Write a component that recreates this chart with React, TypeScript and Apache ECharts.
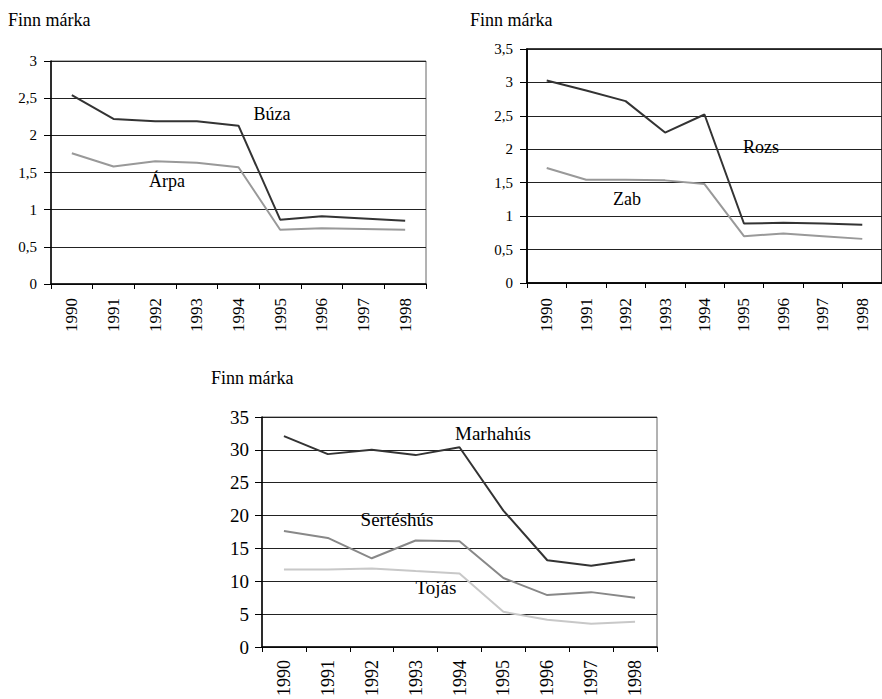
import React, { useEffect, useRef } from "react";
import * as echarts from "echarts";

const years = ["1990", "1991", "1992", "1993", "1994", "1995", "1996", "1997", "1998"];

const buza = [2.54, 2.22, 2.19, 2.19, 2.13, 0.865, 0.91, 0.88, 0.85];
const arpa = [1.76, 1.58, 1.65, 1.63, 1.57, 0.73, 0.75, 0.74, 0.73];

const rozs = [3.03, 2.88, 2.72, 2.25, 2.52, 0.89, 0.9, 0.89, 0.87];
const zab = [1.72, 1.545, 1.545, 1.535, 1.48, 0.7, 0.74, 0.7, 0.66];

const marhahus = [32.1, 29.35, 30.0, 29.2, 30.4, 20.75, 13.2, 12.35, 13.3];
const serteshus = [17.65, 16.6, 13.5, 16.2, 16.1, 10.5, 7.9, 8.35, 7.5];
const tojas = [11.8, 11.8, 11.95, 11.55, 11.2, 5.35, 4.15, 3.55, 3.85];

const unitLabel = "Finn márka";

const FONT = "Liberation Serif";

export default function App() {
  const ref = useRef<HTMLDivElement>(null);
  useEffect(() => {
    if (!ref.current) return;
    const chart = echarts.init(ref.current, undefined, { renderer: "svg" });

    const fmt = (v: number) => String(v).replace(".", ",");

    const mkX = (gridIndex: number, fontSize: number, margin: number) => ({
      type: "category",
      gridIndex,
      data: years,
      boundaryGap: true,
      axisLine: { show: true, lineStyle: { color: "#000", width: 1.5 } },
      axisTick: { show: true, length: 5, lineStyle: { color: "#000" } },
      axisLabel: {
        interval: 0,
        rotate: 90,
        margin,
        color: "#000",
        fontFamily: FONT,
        fontSize,
      },
      splitLine: { show: false },
    });

    const mkY = (gridIndex: number, max: number, interval: number, fontSize: number, margin: number) => ({
      type: "value",
      gridIndex,
      min: 0,
      max,
      interval,
      axisLine: { show: true, lineStyle: { color: "#000", width: 1.5 } },
      axisTick: { show: true, length: 7, lineStyle: { color: "#000" } },
      axisLabel: {
        margin,
        color: "#000",
        fontFamily: FONT,
        fontSize,
        formatter: fmt,
      },
      splitLine: { show: true, lineStyle: { color: "#222", width: 1 } },
    });

    const mkS = (name: string, data: number[], xi: number, color: string) => ({
      type: "line",
      name,
      xAxisIndex: xi,
      yAxisIndex: xi,
      data,
      symbol: "none",
      lineStyle: { color, width: 2 },
      z: 5,
    });

    const txt = (text: string, x: number, y: number, align: string, size: number) => ({
      type: "text",
      x,
      y,
      z: 100,
      style: {
        text,
        fill: "#000",
        fontFamily: FONT,
        fontSize: size,
        textAlign: align,
        textVerticalAlign: "middle",
        align,
        verticalAlign: "middle",
      },
    });

    chart.setOption({
      animation: false,
      backgroundColor: "#fff",
      textStyle: { fontFamily: FONT },
      grid: [
        { left: 51, top: 61, width: 375, height: 223, show: true, borderColor: "#666", borderWidth: 1 },
        { left: 527, top: 49, width: 367, height: 234, show: true, borderColor: "#000", borderWidth: 1.5 },
        { left: 262, top: 417, width: 395, height: 233, show: true, borderColor: "#666", borderWidth: 1 },
      ],
      xAxis: [mkX(0, 17, 14), mkX(1, 17, 15), mkX(2, 18, 13)],
      yAxis: [mkY(0, 3, 0.5, 15, 14), mkY(1, 3.5, 0.5, 15, 14), mkY(2, 35, 5, 19, 13)],
      series: [
        mkS("Búza", buza, 0, "#333"),
        mkS("Árpa", arpa, 0, "#999"),
        mkS("Rozs", rozs, 1, "#333"),
        mkS("Zab", zab, 1, "#999"),
        mkS("Marhahús", marhahus, 2, "#333"),
        mkS("Sertéshús", serteshus, 2, "#888"),
        mkS("Tojás", tojas, 2, "#c8c8c8"),
      ],
      graphic: [
        txt(unitLabel, 8, 20, "left", 18),
        txt(unitLabel, 470, 20, "left", 18),
        txt(unitLabel, 211, 378, "left", 18),
        txt("Búza", 272, 114, "center", 18),
        txt("Árpa", 167, 181, "center", 18),
        txt("Rozs", 761, 147, "center", 18),
        txt("Zab", 627, 199, "center", 18),
        txt("Marhahús", 493, 433, "center", 19),
        txt("Sertéshús", 397, 519, "center", 19),
        txt("Tojás", 436, 587, "center", 19),
      ],
    });
    return () => chart.dispose();
  }, []);
  return (
    <div
      ref={ref}
      style={{ position: "absolute", left: 0, top: 0, width: 882, height: 699, background: "#fff" }}
    />
  );
}
